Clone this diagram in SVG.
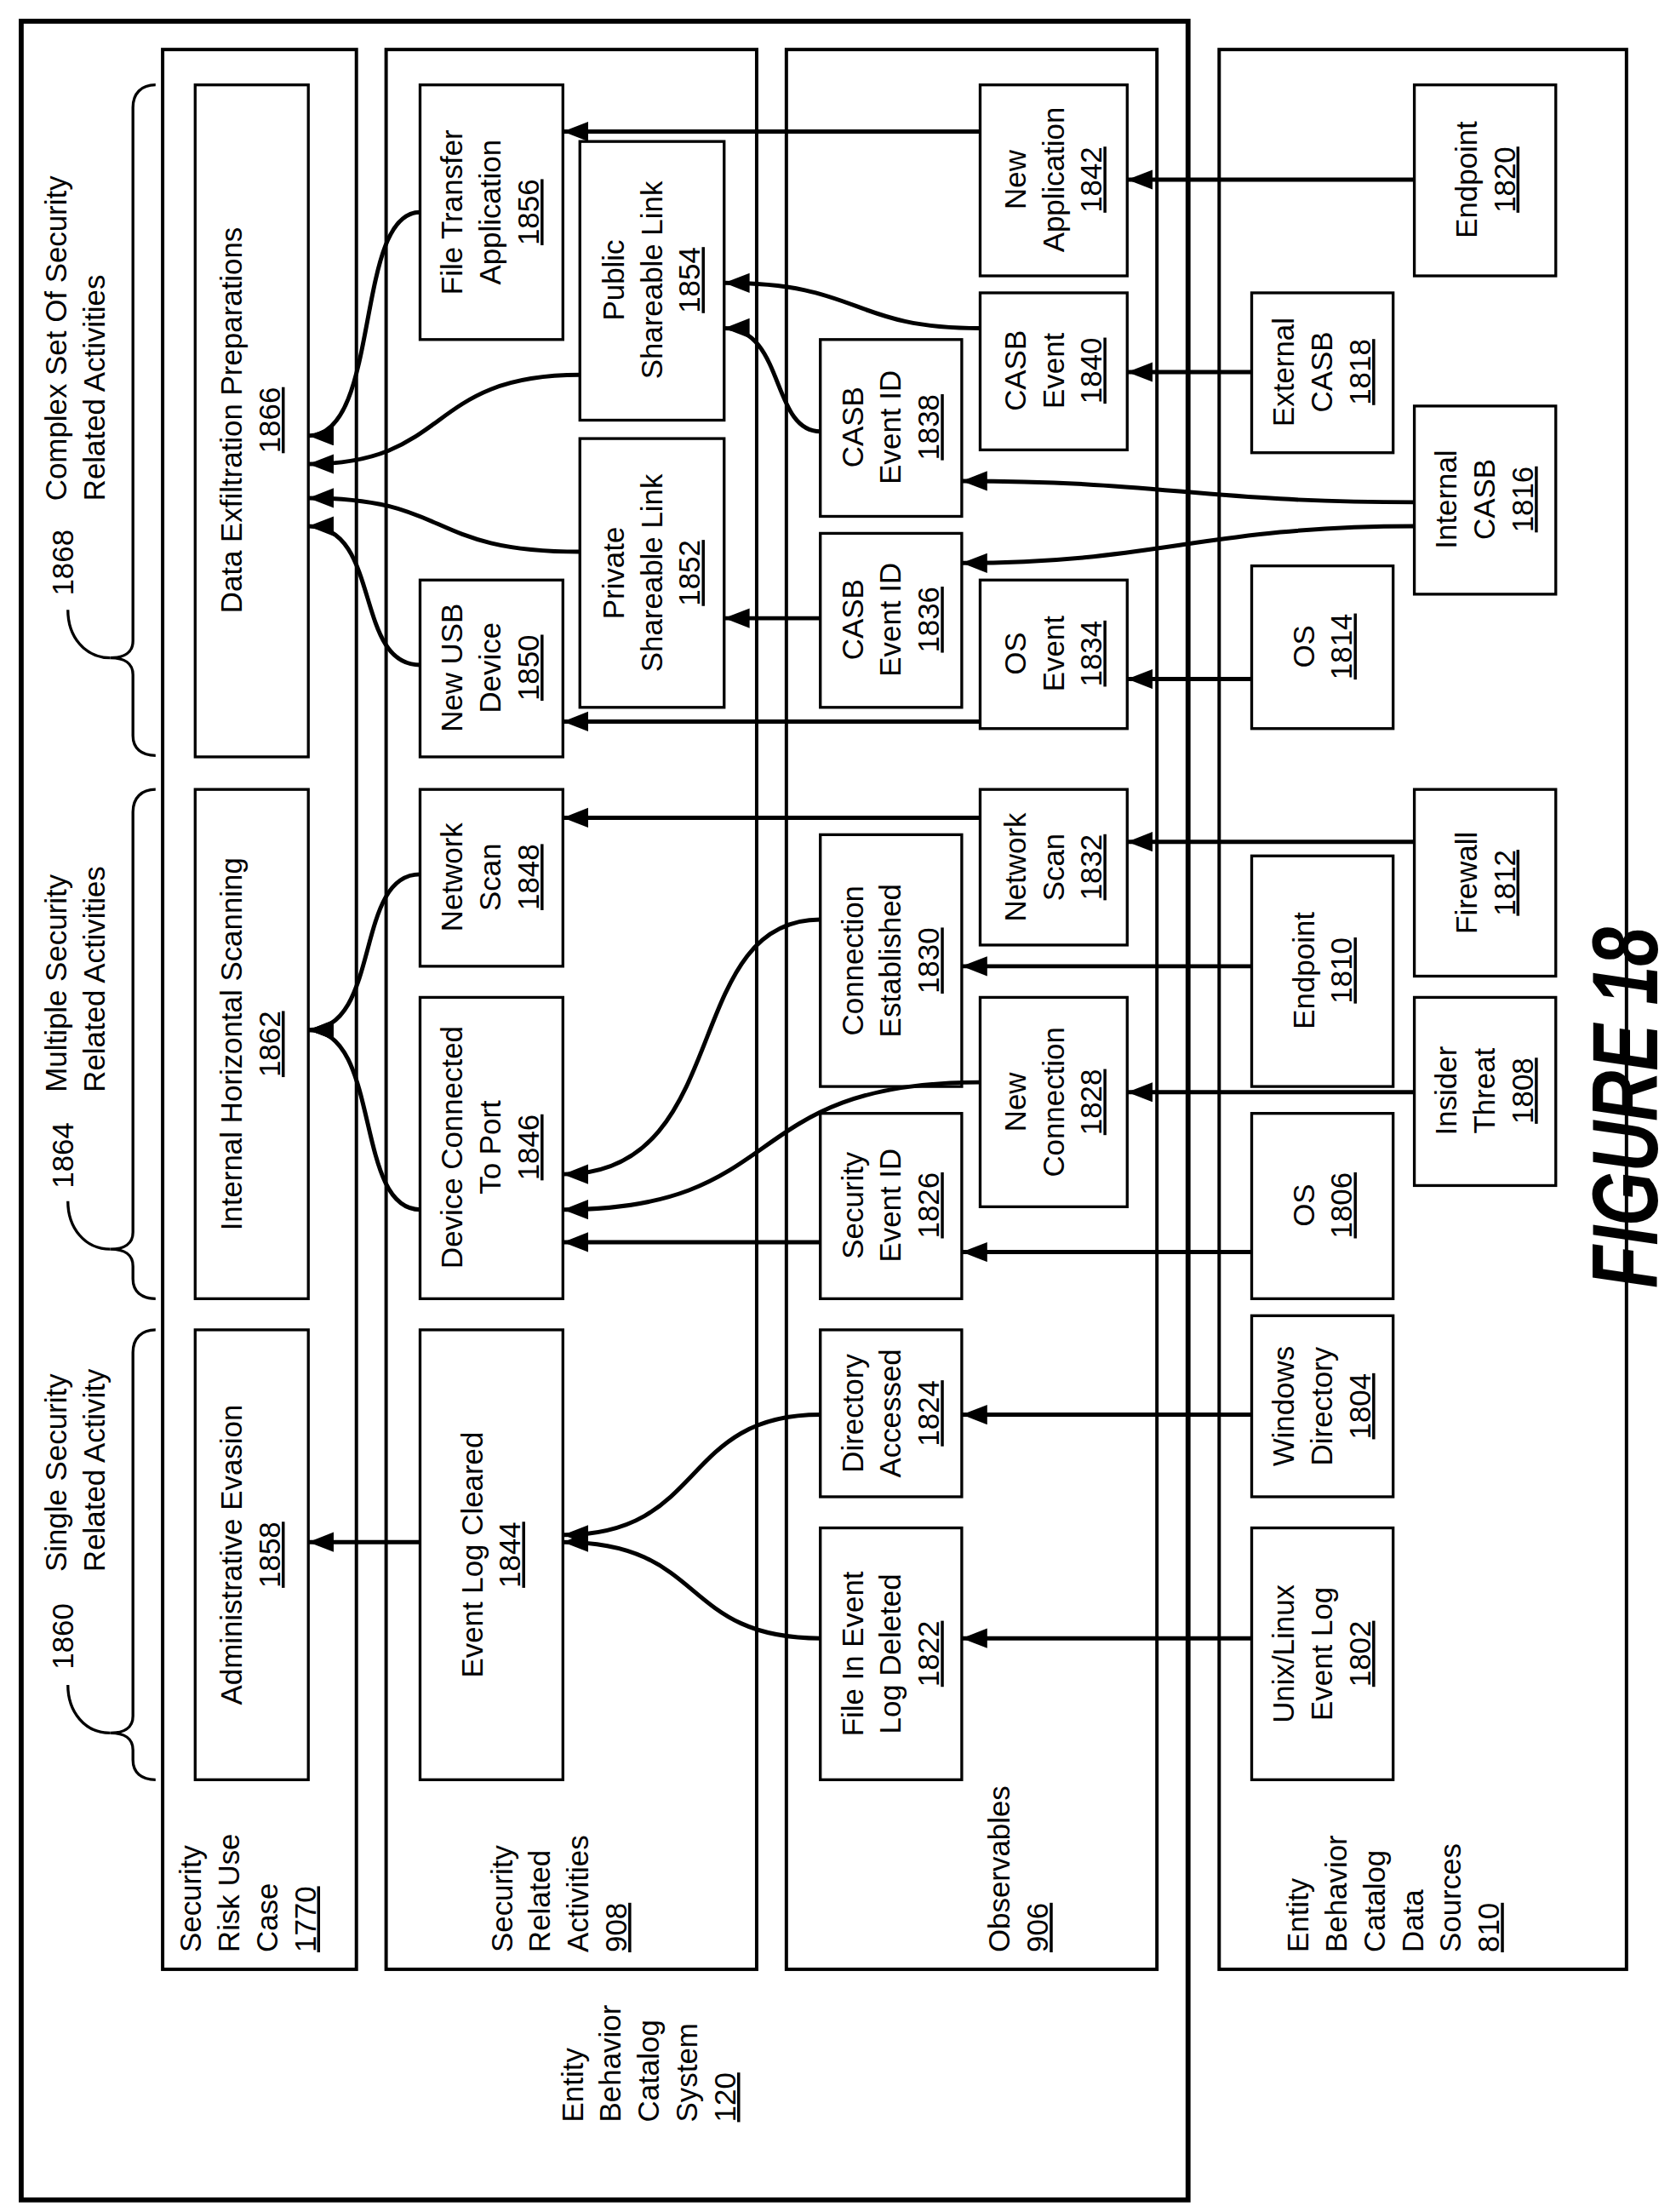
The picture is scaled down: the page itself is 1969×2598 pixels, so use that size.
<svg xmlns="http://www.w3.org/2000/svg" width="1969" height="2598" viewBox="0 0 1969 2598">
<style>
.t{font-family:"Liberation Sans",Arial,sans-serif;font-size:21px;fill:#000;text-anchor:middle}
.l{font-family:"Liberation Sans",Arial,sans-serif;font-size:21px;fill:#000;text-anchor:start}
.u{text-decoration:underline}
.b{fill:#fff;stroke:#000;stroke-width:2}
.p{fill:none;stroke:#000;stroke-width:2.4}
.c{fill:none;stroke:#000;stroke-width:3;marker-end:url(#ah)}
.br{fill:none;stroke:#000;stroke-width:2}
</style>
<defs>
<marker id="ah" markerUnits="userSpaceOnUse" markerWidth="20" markerHeight="16" refX="18" refY="7" orient="auto">
<path d="M0,0 L18,7 L0,14 Z" fill="#000"/>
</marker>
</defs>
<rect width="1969" height="2598" fill="#fff"/>
<g transform="scale(1.6616)">
<g id="system">
<rect x="15" y="15" width="825" height="1540" fill="none" stroke="#000" stroke-width="3.5"/>
<text class="l" transform="translate(405,1500) rotate(-90)"><tspan x="0" y="7">Entity</tspan><tspan x="0" y="34">Behavior</tspan><tspan x="0" y="61">Catalog</tspan><tspan x="0" y="88">System</tspan><tspan x="0" y="115" class="u">120</tspan></text>
</g>
<g id="panel-risk">
<rect class="p" x="115" y="35" width="137" height="1357"/>
<text class="l" transform="translate(135,1380) rotate(-90)"><tspan x="0" y="7">Security</tspan><tspan x="0" y="34">Risk Use</tspan><tspan x="0" y="61">Case</tspan><tspan x="0" y="88" class="u">1770</tspan></text>
</g>
<g id="panel-activities">
<rect class="p" x="273" y="35" width="262" height="1357"/>
<text class="l" transform="translate(355,1380) rotate(-90)"><tspan x="0" y="7">Security</tspan><tspan x="0" y="34">Related</tspan><tspan x="0" y="61">Activities</tspan><tspan x="0" y="88" class="u">908</tspan></text>
</g>
<g id="panel-observables">
<rect class="p" x="556" y="35" width="262" height="1357"/>
<text class="l" transform="translate(707,1380) rotate(-90)"><tspan x="0" y="7">Observables</tspan><tspan x="0" y="34" class="u">906</tspan></text>
</g>
<g id="panel-sources">
<rect class="p" x="862" y="35" width="288" height="1357"/>
<text class="l" transform="translate(918,1380) rotate(-90)"><tspan x="0" y="7">Entity</tspan><tspan x="0" y="34">Behavior</tspan><tspan x="0" y="61">Catalog</tspan><tspan x="0" y="88">Data</tspan><tspan x="0" y="115">Sources</tspan><tspan x="0" y="142" class="u">810</tspan></text>
</g>

<g id="brace-1860">
<path class="br" d="M110,940 C100,940 94,946 94,956 L94,1213 C94,1221 88,1225 78,1225 C88,1225 94,1229 94,1237 L94,1244 C94,1253 100,1258 110,1258"/>
<path class="br" d="M78,1225 C60,1225 48,1210 48,1191"/>
<text class="l" transform="translate(45,1180) rotate(-90)"><tspan x="0" y="7">1860</tspan></text>
<text class="l" transform="translate(40,1111) rotate(-90)"><tspan x="0" y="7">Single Security</tspan><tspan x="0" y="34">Related Activity</tspan></text>
</g>
<g id="brace-1864">
<path class="br" d="M110,558 C100,558 94,564 94,574 L94,871 C94,879 88,883 78,883 C88,883 94,887 94,895 L94,904 C94,913 100,918 110,918"/>
<path class="br" d="M78,883 C60,883 48,868 48,849"/>
<text class="l" transform="translate(45,840) rotate(-90)"><tspan x="0" y="7">1864</tspan></text>
<text class="l" transform="translate(40,772) rotate(-90)"><tspan x="0" y="7">Multiple Security</tspan><tspan x="0" y="34">Related Activities</tspan></text>
</g>
<g id="brace-1868">
<path class="br" d="M110,60 C100,60 94,66 94,76 L94,453 C94,461 88,465 78,465 C88,465 94,469 94,477 L94,520 C94,529 100,534 110,534"/>
<path class="br" d="M78,465 C60,465 48,450 48,431"/>
<text class="l" transform="translate(45,421) rotate(-90)"><tspan x="0" y="7">1868</tspan></text>
<text class="l" transform="translate(40,354) rotate(-90)"><tspan x="0" y="7">Complex Set Of Security</tspan><tspan x="0" y="34">Related Activities</tspan></text>
</g>

<g id="n1858"><rect class="b" x="138" y="940" width="80" height="318"/><text class="t" transform="translate(177,1099) rotate(-90)"><tspan x="0" y="-6">Administrative Evasion</tspan><tspan x="0" y="21" class="u">1858</tspan></text></g>
<g id="n1862"><rect class="b" x="138" y="558" width="80" height="360"/><text class="t" transform="translate(177,738) rotate(-90)"><tspan x="0" y="-6">Internal Horizontal Scanning</tspan><tspan x="0" y="21" class="u">1862</tspan></text></g>
<g id="n1866"><rect class="b" x="138" y="60" width="80" height="475"/><text class="t" transform="translate(177,297) rotate(-90)"><tspan x="0" y="-6">Data Exfiltration Preparations</tspan><tspan x="0" y="21" class="u">1866</tspan></text></g>

<g id="n1844"><rect class="b" x="297" y="940" width="101" height="318"/><text class="t" transform="translate(347,1099) rotate(-90)"><tspan x="0" y="-6">Event Log Cleared</tspan><tspan x="0" y="21" class="u">1844</tspan></text></g>
<g id="n1846"><rect class="b" x="297" y="705" width="101" height="213"/><text class="t" transform="translate(347,811) rotate(-90)"><tspan x="0" y="-20">Device Connected</tspan><tspan x="0" y="7">To Port</tspan><tspan x="0" y="34" class="u">1846</tspan></text></g>
<g id="n1848"><rect class="b" x="297" y="558" width="101" height="125"/><text class="t" transform="translate(347,620) rotate(-90)"><tspan x="0" y="-20">Network</tspan><tspan x="0" y="7">Scan</tspan><tspan x="0" y="34" class="u">1848</tspan></text></g>
<g id="n1850"><rect class="b" x="297" y="410" width="101" height="125"/><text class="t" transform="translate(347,472) rotate(-90)"><tspan x="0" y="-20">New USB</tspan><tspan x="0" y="7">Device</tspan><tspan x="0" y="34" class="u">1850</tspan></text></g>
<g id="n1852"><rect class="b" x="410" y="310" width="102" height="190"/><text class="t" transform="translate(461,405) rotate(-90)"><tspan x="0" y="-20">Private</tspan><tspan x="0" y="7">Shareable Link</tspan><tspan x="0" y="34" class="u">1852</tspan></text></g>
<g id="n1854"><rect class="b" x="410" y="100" width="102" height="197"/><text class="t" transform="translate(461,198) rotate(-90)"><tspan x="0" y="-20">Public</tspan><tspan x="0" y="7">Shareable Link</tspan><tspan x="0" y="34" class="u">1854</tspan></text></g>
<g id="n1856"><rect class="b" x="297" y="60" width="101" height="180"/><text class="t" transform="translate(347,150) rotate(-90)"><tspan x="0" y="-20">File Transfer</tspan><tspan x="0" y="7">Application</tspan><tspan x="0" y="34" class="u">1856</tspan></text></g>

<g id="n1822"><rect class="b" x="580" y="1080" width="100" height="178"/><text class="t" transform="translate(630,1169) rotate(-90)"><tspan x="0" y="-20">File In Event</tspan><tspan x="0" y="7">Log Deleted</tspan><tspan x="0" y="34" class="u">1822</tspan></text></g>
<g id="n1824"><rect class="b" x="580" y="940" width="100" height="118"/><text class="t" transform="translate(630,999) rotate(-90)"><tspan x="0" y="-20">Directory</tspan><tspan x="0" y="7">Accessed</tspan><tspan x="0" y="34" class="u">1824</tspan></text></g>
<g id="n1826"><rect class="b" x="580" y="787" width="100" height="131"/><text class="t" transform="translate(630,852) rotate(-90)"><tspan x="0" y="-20">Security</tspan><tspan x="0" y="7">Event ID</tspan><tspan x="0" y="34" class="u">1826</tspan></text></g>
<g id="n1828"><rect class="b" x="693" y="705" width="104" height="148"/><text class="t" transform="translate(745,779) rotate(-90)"><tspan x="0" y="-20">New</tspan><tspan x="0" y="7">Connection</tspan><tspan x="0" y="34" class="u">1828</tspan></text></g>
<g id="n1830"><rect class="b" x="580" y="590" width="100" height="178"/><text class="t" transform="translate(630,679) rotate(-90)"><tspan x="0" y="-20">Connection</tspan><tspan x="0" y="7">Established</tspan><tspan x="0" y="34" class="u">1830</tspan></text></g>
<g id="n1832"><rect class="b" x="693" y="558" width="104" height="110"/><text class="t" transform="translate(745,613) rotate(-90)"><tspan x="0" y="-20">Network</tspan><tspan x="0" y="7">Scan</tspan><tspan x="0" y="34" class="u">1832</tspan></text></g>
<g id="n1834"><rect class="b" x="693" y="410" width="104" height="105"/><text class="t" transform="translate(745,462) rotate(-90)"><tspan x="0" y="-20">OS</tspan><tspan x="0" y="7">Event</tspan><tspan x="0" y="34" class="u">1834</tspan></text></g>
<g id="n1836"><rect class="b" x="580" y="377" width="100" height="123"/><text class="t" transform="translate(630,438) rotate(-90)"><tspan x="0" y="-20">CASB</tspan><tspan x="0" y="7">Event ID</tspan><tspan x="0" y="34" class="u">1836</tspan></text></g>
<g id="n1838"><rect class="b" x="580" y="240" width="100" height="125"/><text class="t" transform="translate(630,302) rotate(-90)"><tspan x="0" y="-20">CASB</tspan><tspan x="0" y="7">Event ID</tspan><tspan x="0" y="34" class="u">1838</tspan></text></g>
<g id="n1840"><rect class="b" x="693" y="207" width="104" height="111"/><text class="t" transform="translate(745,262) rotate(-90)"><tspan x="0" y="-20">CASB</tspan><tspan x="0" y="7">Event</tspan><tspan x="0" y="34" class="u">1840</tspan></text></g>
<g id="n1842"><rect class="b" x="693" y="60" width="104" height="135"/><text class="t" transform="translate(745,127) rotate(-90)"><tspan x="0" y="-20">New</tspan><tspan x="0" y="7">Application</tspan><tspan x="0" y="34" class="u">1842</tspan></text></g>

<g id="n1802"><rect class="b" x="885" y="1080" width="100" height="178"/><text class="t" transform="translate(935,1169) rotate(-90)"><tspan x="0" y="-20">Unix/Linux</tspan><tspan x="0" y="7">Event Log</tspan><tspan x="0" y="34" class="u">1802</tspan></text></g>
<g id="n1804"><rect class="b" x="885" y="930" width="100" height="128"/><text class="t" transform="translate(935,994) rotate(-90)"><tspan x="0" y="-20">Windows</tspan><tspan x="0" y="7">Directory</tspan><tspan x="0" y="34" class="u">1804</tspan></text></g>
<g id="n1806"><rect class="b" x="885" y="787" width="100" height="131"/><text class="t" transform="translate(935,852) rotate(-90)"><tspan x="0" y="-6">OS</tspan><tspan x="0" y="21" class="u">1806</tspan></text></g>
<g id="n1808"><rect class="b" x="1000" y="705" width="100" height="133"/><text class="t" transform="translate(1050,771) rotate(-90)"><tspan x="0" y="-20">Insider</tspan><tspan x="0" y="7">Threat</tspan><tspan x="0" y="34" class="u">1808</tspan></text></g>
<g id="n1810"><rect class="b" x="885" y="605" width="100" height="163"/><text class="t" transform="translate(935,686) rotate(-90)"><tspan x="0" y="-6">Endpoint</tspan><tspan x="0" y="21" class="u">1810</tspan></text></g>
<g id="n1812"><rect class="b" x="1000" y="558" width="100" height="132"/><text class="t" transform="translate(1050,624) rotate(-90)"><tspan x="0" y="-6">Firewall</tspan><tspan x="0" y="21" class="u">1812</tspan></text></g>
<g id="n1814"><rect class="b" x="885" y="400" width="100" height="115"/><text class="t" transform="translate(935,457) rotate(-90)"><tspan x="0" y="-6">OS</tspan><tspan x="0" y="21" class="u">1814</tspan></text></g>
<g id="n1816"><rect class="b" x="1000" y="287" width="100" height="133"/><text class="t" transform="translate(1050,353) rotate(-90)"><tspan x="0" y="-20">Internal</tspan><tspan x="0" y="7">CASB</tspan><tspan x="0" y="34" class="u">1816</tspan></text></g>
<g id="n1818"><rect class="b" x="885" y="207" width="100" height="113"/><text class="t" transform="translate(935,263) rotate(-90)"><tspan x="0" y="-20">External</tspan><tspan x="0" y="7">CASB</tspan><tspan x="0" y="34" class="u">1818</tspan></text></g>
<g id="n1820"><rect class="b" x="1000" y="60" width="100" height="135"/><text class="t" transform="translate(1050,127) rotate(-90)"><tspan x="0" y="-6">Endpoint</tspan><tspan x="0" y="21" class="u">1820</tspan></text></g>

<g id="connectors">
<path class="c" d="M297,1090 L218,1090"/>
<path class="c" d="M580,1158 C480,1158 500,1090 398,1090"/>
<path class="c" d="M580,1000 C480,1000 500,1085 398,1085"/>
<path class="c" d="M885,1158 L680,1158"/>
<path class="c" d="M885,1000 L680,1000"/>
<path class="c" d="M885,885 L680,885"/>
<path class="c" d="M580,878 L398,878"/>
<path class="c" d="M693,765 C520,765 560,855 398,855"/>
<path class="c" d="M580,650 C480,650 520,830 398,830"/>
<path class="c" d="M1000,772 L797,772"/>
<path class="c" d="M885,683 L680,683"/>
<path class="c" d="M1000,595 L797,595"/>
<path class="c" d="M693,578 L398,578"/>
<path class="c" d="M297,855 C250,855 270,728 218,728"/>
<path class="c" d="M297,618 C250,618 270,728 218,728"/>
<path class="c" d="M885,480 L797,480"/>
<path class="c" d="M693,510 L398,510"/>
<path class="c" d="M580,437 L512,437"/>
<path class="c" d="M1000,372 C850,372 820,398 680,398"/>
<path class="c" d="M1000,355 C850,355 820,340 680,340"/>
<path class="c" d="M580,305 C545,305 555,232 512,232"/>
<path class="c" d="M693,232 C600,232 610,200 512,200"/>
<path class="c" d="M885,263 L797,263"/>
<path class="c" d="M1000,127 L797,127"/>
<path class="c" d="M693,93 L398,93"/>
<path class="c" d="M297,470 C250,470 270,372 218,372"/>
<path class="c" d="M410,390 C300,390 320,352 218,352"/>
<path class="c" d="M410,265 C300,265 320,328 218,328"/>
<path class="c" d="M297,150 C250,150 270,308 218,308"/>
</g>
<text id="figure-label" transform="translate(1172,783) rotate(-90)" font-family="Liberation Sans,Arial,sans-serif" font-size="66" font-weight="bold" font-style="italic" text-anchor="middle" textLength="255" lengthAdjust="spacingAndGlyphs">FIGURE 18</text>
</g>
</svg>
